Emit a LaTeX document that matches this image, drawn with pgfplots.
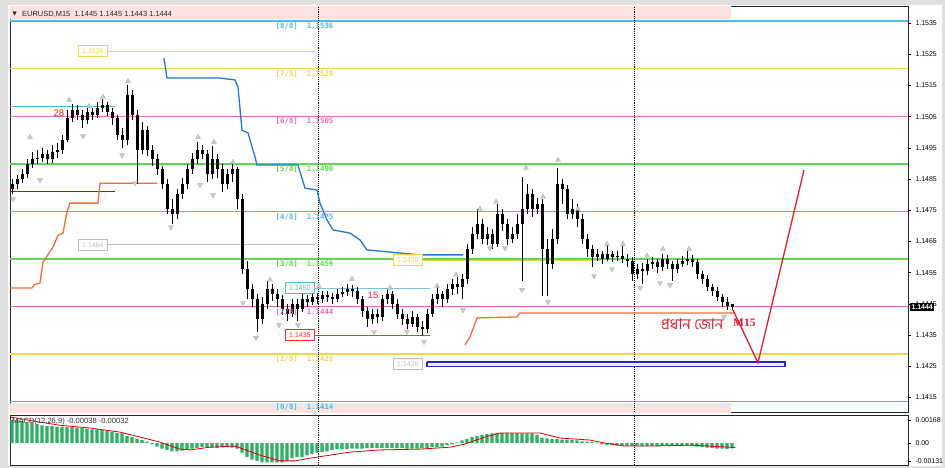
\documentclass[border=0pt]{standalone}
\usepackage{pgfplots}
\pgfplotsset{compat=1.18}
\usepackage{pgfplotstable}
\usepackage{fontspec}
\setmainfont{Liberation Sans}
\newfontfamily\monofont{DejaVu Sans Mono}
\newfontfamily\dejavu{DejaVu Sans}
\newfontfamily\bengalifont[Script=Bengali]{Hind Siliguri}
\newfontfamily\seriffont{Liberation Serif}

\definecolor{mcyan}{RGB}{80,185,230}
\definecolor{myellow}{RGB}{242,215,70}
\definecolor{mpink}{RGB}{228,110,185}
\definecolor{mgreen}{RGB}{95,215,85}
\definecolor{bandpink}{RGB}{253,226,226}
\definecolor{kblue}{RGB}{30,120,220}
\definecolor{sorange}{RGB}{245,110,60}
\definecolor{hgreen}{RGB}{45,175,100}
\definecolor{zblue}{RGB}{40,40,210}
\definecolor{tred}{RGB}{225,30,45}
\definecolor{lgray}{RGB}{190,190,190}

\pgfplotstableread{
x o h l c
12 1.14817 1.14849 1.14801 1.14833
17 1.14833 1.14862 1.14817 1.14849
22 1.14849 1.14881 1.14839 1.14865
27 1.14865 1.14913 1.14855 1.14897
32 1.14897 1.14938 1.14887 1.14913
37 1.14913 1.14944 1.14897 1.14919
42 1.14919 1.14951 1.14906 1.14929
47 1.14929 1.14944 1.14897 1.14913
52 1.14913 1.14960 1.14903 1.14938
57 1.14938 1.14967 1.14919 1.14944
62 1.14944 1.14992 1.14929 1.14976
67 1.14976 1.15072 1.14970 1.15047
72 1.15047 1.15091 1.15034 1.15072
77 1.15072 1.15088 1.15040 1.15056
82 1.15056 1.15072 1.15015 1.15040
87 1.15040 1.15085 1.15028 1.15066
92 1.15066 1.15078 1.15040 1.15056
97 1.15056 1.15098 1.15047 1.15078
102 1.15078 1.15107 1.15066 1.15088
107 1.15088 1.15098 1.15053 1.15066
112 1.15066 1.15078 1.15024 1.15047
117 1.15047 1.15056 1.14976 1.14992
122 1.14992 1.15015 1.14951 1.14976
127 1.14976 1.15152 1.14960 1.15120
132 1.15120 1.15136 1.15040 1.15056
137 1.15056 1.15072 1.14833 1.14944
142 1.14944 1.15034 1.14929 1.15008
147 1.15008 1.15021 1.14925 1.14944
152 1.14944 1.14960 1.14893 1.14913
157 1.14913 1.14929 1.14862 1.14881
162 1.14881 1.14893 1.14817 1.14833
167 1.14833 1.14849 1.14737 1.14753
172 1.14753 1.14785 1.14705 1.14737
177 1.14737 1.14817 1.14721 1.14801
182 1.14801 1.14855 1.14785 1.14833
187 1.14833 1.14897 1.14817 1.14881
192 1.14881 1.14935 1.14865 1.14913
197 1.14913 1.14970 1.14897 1.14944
202 1.14944 1.14960 1.14913 1.14929
207 1.14929 1.14944 1.14842 1.14865
212 1.14865 1.14957 1.14849 1.14913
217 1.14913 1.14929 1.14855 1.14881
222 1.14881 1.14897 1.14810 1.14833
227 1.14833 1.14881 1.14817 1.14865
232 1.14865 1.14897 1.14842 1.14881
237 1.14881 1.14890 1.14753 1.14785
242 1.14785 1.14801 1.14546 1.14562
247 1.14562 1.14587 1.14466 1.14498
252 1.14498 1.14514 1.14441 1.14466
257 1.14466 1.14482 1.14360 1.14402
262 1.14402 1.14472 1.14386 1.14450
267 1.14450 1.14523 1.14434 1.14498
272 1.14498 1.14514 1.14460 1.14482
277 1.14482 1.14498 1.14441 1.14466
282 1.14466 1.14479 1.14415 1.14434
287 1.14434 1.14450 1.14396 1.14418
292 1.14418 1.14466 1.14409 1.14450
297 1.14450 1.14466 1.14396 1.14434
302 1.14434 1.14482 1.14425 1.14466
307 1.14466 1.14479 1.14441 1.14456
312 1.14456 1.14488 1.14447 1.14472
317 1.14472 1.14485 1.14450 1.14466
322 1.14466 1.14491 1.14453 1.14479
327 1.14479 1.14491 1.14456 1.14472
332 1.14472 1.14485 1.14450 1.14466
337 1.14466 1.14498 1.14456 1.14482
342 1.14482 1.14504 1.14472 1.14488
347 1.14488 1.14514 1.14476 1.14498
352 1.14498 1.14511 1.14472 1.14491
357 1.14491 1.14504 1.14450 1.14466
362 1.14466 1.14476 1.14409 1.14428
367 1.14428 1.14441 1.14377 1.14402
372 1.14402 1.14434 1.14386 1.14418
377 1.14418 1.14434 1.14390 1.14409
382 1.14409 1.14479 1.14396 1.14466
387 1.14466 1.14498 1.14450 1.14482
392 1.14482 1.14491 1.14434 1.14450
397 1.14450 1.14466 1.14402 1.14418
402 1.14418 1.14434 1.14383 1.14402
407 1.14402 1.14418 1.14370 1.14386
412 1.14386 1.14428 1.14377 1.14409
417 1.14409 1.14418 1.14360 1.14377
422 1.14377 1.14396 1.14348 1.14370
427 1.14370 1.14434 1.14358 1.14418
432 1.14418 1.14482 1.14409 1.14466
437 1.14466 1.14504 1.14450 1.14482
442 1.14482 1.14491 1.14441 1.14466
447 1.14466 1.14514 1.14453 1.14498
452 1.14498 1.14530 1.14479 1.14514
457 1.14514 1.14536 1.14482 1.14504
462 1.14504 1.14546 1.14466 1.14530
467 1.14530 1.14641 1.14514 1.14625
472 1.14625 1.14696 1.14610 1.14673
477 1.14673 1.14753 1.14657 1.14705
482 1.14705 1.14721 1.14641 1.14657
487 1.14657 1.14696 1.14638 1.14673
492 1.14673 1.14689 1.14625 1.14641
497 1.14641 1.14769 1.14632 1.14737
502 1.14737 1.14753 1.14683 1.14705
507 1.14705 1.14721 1.14638 1.14657
512 1.14657 1.14696 1.14645 1.14673
517 1.14673 1.14737 1.14657 1.14705
522 1.14705 1.14858 1.14523 1.14753
527 1.14753 1.14833 1.14737 1.14801
532 1.14801 1.14817 1.14727 1.14753
537 1.14753 1.14791 1.14737 1.14769
542 1.14769 1.14785 1.14476 1.14625
547 1.14625 1.14657 1.14476 1.14578
552 1.14578 1.14689 1.14562 1.14657
557 1.14657 1.14887 1.14641 1.14833
562 1.14833 1.14849 1.14769 1.14817
567 1.14817 1.14830 1.14721 1.14737
572 1.14737 1.14785 1.14721 1.14753
577 1.14753 1.14769 1.14696 1.14721
582 1.14721 1.14737 1.14641 1.14657
587 1.14657 1.14673 1.14600 1.14625
592 1.14625 1.14638 1.14568 1.14600
597 1.14600 1.14625 1.14587 1.14610
602 1.14610 1.14619 1.14578 1.14594
607 1.14594 1.14641 1.14587 1.14610
612 1.14610 1.14619 1.14584 1.14600
617 1.14600 1.14619 1.14587 1.14603
622 1.14603 1.14635 1.14581 1.14594
627 1.14594 1.14610 1.14568 1.14587
632 1.14587 1.14600 1.14523 1.14546
637 1.14546 1.14578 1.14530 1.14562
642 1.14562 1.14581 1.14514 1.14555
647 1.14555 1.14594 1.14543 1.14578
652 1.14578 1.14600 1.14562 1.14584
657 1.14584 1.14594 1.14549 1.14568
662 1.14568 1.14610 1.14555 1.14594
667 1.14594 1.14606 1.14562 1.14578
672 1.14578 1.14587 1.14523 1.14562
677 1.14562 1.14594 1.14549 1.14578
682 1.14578 1.14603 1.14568 1.14587
687 1.14587 1.14619 1.14575 1.14594
692 1.14594 1.14606 1.14568 1.14584
697 1.14584 1.14594 1.14530 1.14546
702 1.14546 1.14555 1.14514 1.14530
707 1.14530 1.14543 1.14491 1.14504
712 1.14504 1.14514 1.14476 1.14491
717 1.14491 1.14504 1.14460 1.14472
722 1.14472 1.14482 1.14441 1.14456
727 1.14456 1.14472 1.14431 1.14444
732 1.14450 1.14450 1.14430 1.14440
}\candles

\pgfplotstableread{
x m
12 0.0017
17 0.0017
22 0.0016
27 0.0015
32 0.0015
37 0.0014
42 0.0013
47 0.00124
52 0.00124
57 0.0012
62 0.00117
67 0.00117
72 0.00117
77 0.00112
82 0.0011
87 0.00105
92 0.001
97 0.001
102 0.00095
107 0.0009
112 0.0008
117 0.00073
122 0.0007
127 0.0005
132 0.00045
137 0.0003
142 0.00022
147 0.0001
152 -0.0001
157 -0.00025
162 -0.0004
167 -0.0005
172 -0.0006
177 -0.0006
182 -0.00055
187 -0.0005
192 -0.0004
197 -0.00035
202 -0.0003
207 -0.0003
212 -0.00033
217 -0.00035
222 -0.0003
227 -0.0003
232 -0.00033
237 -0.0004
242 -0.0007
247 -0.001
252 -0.0012
257 -0.0013
262 -0.0014
267 -0.0014
272 -0.0014
277 -0.0014
282 -0.0014
287 -0.0013
292 -0.0011
297 -0.001
302 -0.001
307 -0.0009
312 -0.0008
317 -0.0007
322 -0.00066
327 -0.0006
332 -0.0005
337 -0.00045
342 -0.00044
347 -0.00044
352 -0.0004
357 -0.0004
362 -0.0004
367 -0.00037
372 -0.00037
377 -0.00037
382 -0.00035
387 -0.00035
392 -0.00037
397 -0.00037
402 -0.00037
407 -0.0004
412 -0.0004
417 -0.0004
422 -0.00037
427 -0.00035
432 -0.0003
437 -0.0003
442 -0.00025
447 -0.00015
452 -0.0001
457 0.00005
462 0.0002
467 0.0003
472 0.00045
477 0.0005
482 0.0006
487 0.00065
492 0.0007
497 0.00073
502 0.00075
507 0.00075
512 0.00073
517 0.00073
522 0.0007
527 0.0007
532 0.0007
537 0.0006
542 0.0004
547 0.00035
552 0.0003
557 0.0003
562 0.00025
567 0.00025
572 0.00022
577 0.0002
582 0.00012
587 0.0001
592 0.00007
597 0.00003
602 -0.0001
607 -0.00015
612 -0.00015
617 -0.00018
622 -0.0002
627 -0.0002
632 -0.0002
637 -0.0002
642 -0.00022
647 -0.00022
652 -0.0002
657 -0.0002
662 -0.0002
667 -0.00018
672 -0.0002
677 -0.0002
682 -0.0002
687 -0.00018
692 -0.0002
697 -0.00025
702 -0.0003
707 -0.00033
712 -0.00035
717 -0.0004
722 -0.0004
727 -0.00042
732 -0.00038
}\macd

\tikzset{
  boxlab/.style={draw=#1, fill=white, text=#1, font=\fontsize{7}{8}\selectfont,
    inner sep=1.2bp, line width=0.8bp, anchor=west, minimum width=29bp, minimum height=11bp},
  mlab/.style={text=#1, font=\monofont\bfseries\fontsize{7.4}{8}\selectfont, anchor=north west, inner sep=0.5bp, yshift=-1.5bp}
}

\begin{document}
\begin{tikzpicture}
\path[use as bounding box, fill=gray!25] (0,0) rectangle (945bp,468bp);
\fill[white] (8bp,2bp) rectangle (942bp,463bp);

% ---------------- price panel ----------------
\begin{axis}[
  name=price, at={(10bp,55bp)}, anchor=south west, scale only axis,
  width=898bp, height=406bp,
  xmin=10, xmax=908, ymin=1.14100, ymax=1.15402,
  xtick=\empty, scaled y ticks=false,
  ytick={1.1415,1.1425,1.1435,1.1445,1.1455,1.1465,1.1475,1.1485,1.1495,1.1505,1.1515,1.1525,1.1535},
  yticklabels={1.1415,1.1425,1.1435,1.1445,1.1455,1.1465,1.1475,1.1485,1.1495,1.1505,1.1515,1.1525,1.1535},
  ytick pos=right, yticklabel pos=right, tick align=outside,
  major tick length=2.5bp, tick style={black, line width=0.6bp},
  yticklabel style={font=\fontsize{7}{8}\selectfont, xshift=1.5bp},
  axis line style={black!85, line width=1bp},
  clip mode=individual,
]
% pink bands
\addplot[fill=bandpink, draw=none] coordinates {(10,1.15362) (731,1.15362) (731,1.1542) (10,1.1542) (10,1.15362)};
\addplot[fill=bandpink, draw=none] coordinates {(10,1.14131) (731,1.14131) (731,1.1408) (10,1.1408) (10,1.14131)};
% Murrey levels
\addplot[mcyan, line width=1.1bp] coordinates {(10,1.15357) (908,1.15357)};
\addplot[myellow, line width=1.4bp] coordinates {(10,1.15204) (908,1.15204)};
\addplot[mpink, line width=1.1bp] coordinates {(10,1.15052) (908,1.15052)};
\addplot[mgreen, line width=1.4bp] coordinates {(10,1.14899) (908,1.14899)};
\addplot[mcyan, line width=1.1bp] coordinates {(10,1.14747) (908,1.14747)};
\addplot[mgreen, line width=1.4bp] coordinates {(10,1.14594) (908,1.14594)};
\addplot[mpink, line width=1.1bp] coordinates {(10,1.14441) (908,1.14441)};
\addplot[myellow, line width=1.4bp] coordinates {(10,1.14289) (908,1.14289)};
\addplot[mcyan, line width=1.4bp] coordinates {(10,1.14136) (908,1.14136)};
% other horizontal objects
\addplot[myellow, line width=1.1bp] coordinates {(107,1.1526) (315,1.1526)};
\addplot[lgray, line width=0.8bp] coordinates {(107,1.1464) (315,1.1464)};
\addplot[mcyan, line width=1bp] coordinates {(10,1.15084) (115,1.15084)};
\addplot[red!85!black, line width=1bp] coordinates {(10,1.14809) (115,1.14809)};
\addplot[mcyan!80, line width=1bp] coordinates {(315,1.1450) (430,1.1450)};
\addplot[red!80, line width=1bp] coordinates {(315,1.1435) (430,1.1435)};
\addplot[myellow, line width=1.2bp] coordinates {(423,1.1459) (600,1.1459)};
% dotted separators
\addplot[black, densely dotted, line width=0.9bp] coordinates {(318,1.1405) (318,1.1545)};
\addplot[black, densely dotted, line width=0.9bp] coordinates {(634,1.1405) (634,1.1545)};
% trailing lines
\addplot[kblue, line width=1.3bp] coordinates {(164,1.15238) (167,1.15174) (220,1.15174) (235,1.15168) (238,1.15145) (242,1.15007) (248,1.14998) (255,1.14921) (257,1.14895) (298,1.14895) (305,1.14821) (317,1.14815) (320,1.14773) (327,1.14719) (333,1.14687) (350,1.14677) (360,1.14655) (367,1.14623) (420,1.14607) (463,1.14607)};
\addplot[sorange, line width=1.3bp] coordinates {(10,1.14501) (32,1.14501) (34,1.14511) (40,1.14517) (43,1.14584) (53,1.14632) (58,1.14670) (63,1.14677) (67,1.14745) (70,1.14773) (98,1.14773) (100,1.14837) (157,1.14837)};
\addplot[sorange, line width=1.3bp] coordinates {(465,1.14318) (470,1.14344) (477,1.14405) (517,1.14408) (520,1.14421) (735,1.14421)};
% zone rectangle
\addplot[draw=zblue, fill=blue!6, line width=1.3bp] coordinates {(427,1.14264) (785,1.14264) (785,1.14248) (427,1.14248) (427,1.14264)};
% candles
\addplot[draw=none, mark=none, forget plot, error bars/.cd, y dir=minus, y explicit, error mark=none,
  error bar style={draw=black, solid, line width=0.8bp}]
  table[x=x, y=h, y error minus expr={\thisrow{h}-\thisrow{l}}] {\candles};
\addplot[draw=none, mark=none, forget plot, error bars/.cd, y dir=minus, y explicit, error mark=none,
  error bar style={draw=black, solid, line width=3bp}]
  table[x=x, y expr={max(\thisrow{o},\thisrow{c})}, y error minus expr={abs(\thisrow{o}-\thisrow{c})}] {\candles};
% fractals
\addplot[only marks, mark=triangle*, mark size=2.8bp, mark options={fill=gray!40, draw=gray!60, line width=0.4bp}] coordinates {
(30,1.14985) (69,1.15104) (89,1.15084) (103,1.15113) (128,1.15164) (198,1.14985) (214,1.14969) (233,1.14905)
(270,1.14527) (319,1.14507) (352,1.14530) (390,1.14501) (437,1.14507) (456,1.14543) (480,1.14754) (496,1.14777)
(526,1.14886) (543,1.14793) (558,1.14911) (578,1.14754) (607,1.14642) (623,1.14642) (647,1.14604) (663,1.14626) (689,1.14626)};
\addplot[only marks, mark=triangle*, mark size=2.8bp, mark options={rotate=180, fill=gray!40, draw=gray!60, line width=0.4bp}] coordinates {
(13,1.14786) (40,1.14847) (83,1.14988) (122,1.14927) (135,1.14837) (171,1.14696) (200,1.14831) (213,1.14799)
(243,1.14453) (256,1.14341) (279,1.14382) (298,1.14382) (374,1.14360) (407,1.14360) (424,1.14328) (463,1.14430)
(490,1.14629) (505,1.14629) (522,1.14495) (548,1.14456) (594,1.14539) (612,1.14562) (640,1.14501) (660,1.14517) (670,1.14511) (724,1.14408)};
% forecast zigzag
\addplot[tred, line width=1.3bp] coordinates {(733,1.14430) (758,1.14261) (804,1.14879)};
% labels
\node[anchor=west, inner sep=0pt, text=black!85, font=\dejavu\fontsize{5.5}{6}\selectfont] at (axis cs:12.5,1.15378) {▼};
\node[anchor=west, inner sep=0pt, text=black!85, font=\fontsize{7.5}{8}\selectfont] at (axis cs:22,1.15378) {EURUSD,M15\ \ 1.1445 1.1445 1.1443 1.1444};
\node[mlab=mcyan] at (axis cs:275,1.15357) {[8/8]\ \ 1.1536};
\node[mlab=myellow] at (axis cs:275,1.15204) {[7/8]\ \ 1.1520};
\node[mlab=mpink] at (axis cs:275,1.15052) {[6/8]\ \ 1.1505};
\node[mlab=mgreen] at (axis cs:275,1.14899) {[5/8]\ \ 1.1490};
\node[mlab=mcyan] at (axis cs:275,1.14747) {[4/8]\ \ 1.1475};
\node[mlab=mgreen] at (axis cs:275,1.14594) {[3/8]\ \ 1.1459};
\node[mlab=mpink] at (axis cs:275,1.14441) {[2/8]\ \ 1.1444};
\node[mlab=myellow] at (axis cs:275,1.14289) {[1/8]\ \ 1.1429};
\node[mlab=mcyan] at (axis cs:275,1.14136) {[0/8]\ \ 1.1414};
\node[boxlab=myellow] at (axis cs:78,1.1526) {1.1526};
\node[boxlab=lgray] at (axis cs:78,1.1464) {1.1464};
\node[boxlab=mcyan] at (axis cs:285,1.1450) {1.1450};
\node[boxlab=red!85] at (axis cs:285,1.1435) {1.1435};
\node[boxlab=myellow] at (axis cs:393,1.1459) {1.1459};
\node[boxlab=lgray] at (axis cs:393,1.14256) {1.1426};
\node[text=tred, font=\fontsize{9.5}{10}\selectfont] at (axis cs:59,1.15062) {28};
\node[text=tred, font=\fontsize{9.5}{10}\selectfont] at (axis cs:373,1.14479) {15};
\node[anchor=west, inner sep=0pt, text=tred, font=\bengalifont\fontsize{15}{16}\selectfont] at (axis cs:661,1.14384) {প্রধান জোন};
\node[anchor=west, inner sep=0pt, text=tred, font=\seriffont\bfseries\fontsize{11.5}{12}\selectfont] at (axis cs:733,1.14390) {M15};
\coordinate (cp) at (axis cs:908,1.1444);
\end{axis}
\node[anchor=west, fill=black, text=white, font=\fontsize{7}{8}\selectfont\bfseries, inner sep=1.3bp, xshift=2bp] at (cp) {1.1444};

% ---------------- MACD panel ----------------
\begin{axis}[
  at={(10bp,3bp)}, anchor=south west, scale only axis,
  width=898bp, height=50bp,
  xmin=10, xmax=908, ymin=-0.0016, ymax=0.00205,
  xtick=\empty, scaled y ticks=false,
  ytick={-0.00131,0,0.00168}, yticklabels={-0.00131,0.00,0.00168},
  ytick pos=right, yticklabel pos=right, tick align=outside,
  major tick length=2.5bp, tick style={black, line width=0.6bp},
  yticklabel style={font=\fontsize{7}{8}\selectfont, xshift=1.5bp},
  axis line style={black!85, line width=1bp},
]
\addplot[ybar, bar width=3.4bp, fill=hgreen, draw=none] table[x=x, y=m] {\macd};
\addplot[red!85!black, line width=0.8bp] coordinates {(10,0.0019) (40,0.00153) (60,0.0013) (90,0.0011) (120,0.0008) (140,0.00044) (160,0.00007) (180,-0.00044) (190,-0.0005) (210,-0.0003) (235,-0.00022) (260,-0.00088) (280,-0.0013) (295,-0.0013) (310,-0.0011) (330,-0.00088) (350,-0.00066) (380,-0.0005) (420,-0.00044) (450,-0.0003) (465,-0.00007) (485,0.00044) (500,0.00073) (540,0.00073) (560,0.00037) (590,0.00022) (605,0) (625,-0.00022) (650,-0.00022) (690,-0.00015) (735,-0.00032)};
\addplot[black, densely dotted, line width=0.9bp] coordinates {(318,-0.002) (318,0.003)};
\addplot[black, densely dotted, line width=0.9bp] coordinates {(634,-0.002) (634,0.003)};
\node[anchor=west, inner sep=0pt, text=black!80, font=\fontsize{7.6}{8}\selectfont] at (axis cs:12,0.00160) {MACD(12,26,9) -0.00038 -0.00032};
\end{axis}
\end{tikzpicture}
\end{document}
